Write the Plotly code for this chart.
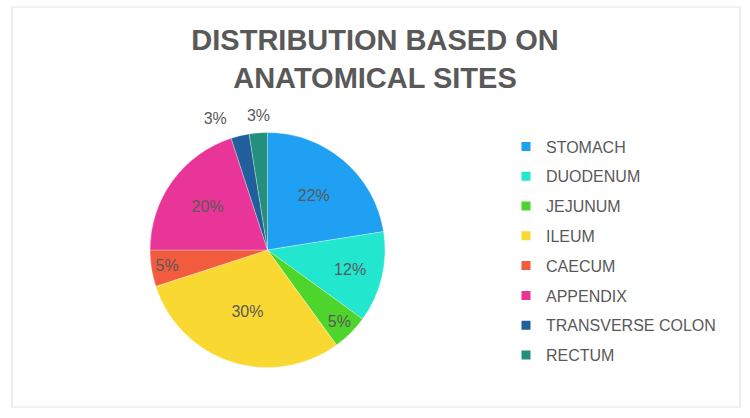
import plotly.graph_objects as go

sites = ["STOMACH", "DUODENUM", "JEJUNUM", "ILEUM", "CAECUM", "APPENDIX",
         "TRANSVERSE COLON", "RECTUM"]
counts = [9, 5, 2, 12, 2, 8, 1, 1]
pct_labels = ["22%", "12%", "5%", "30%", "5%", "20%", "3%", "3%"]
colors = ["#1FA0F2", "#23E6CF", "#4DD52B", "#FAD832", "#F35B3E", "#EA3598",
          "#215F9C", "#22907C"]
# labels of the two small slices sit outside the pie
outside_idx = [6, 7]

W, H = 750, 418
ml, mr, mt, mb = 12, 10, 7, 11
pw, ph = W - ml - mr, H - mt - mb

def px_x(x):
    return (x - ml) / pw

def px_y(y):
    return (H - mb - y) / ph

cx, cy, r = 267.5, 250.0, 117.5

def dom(ox=0.0, oy=0.0):
    return dict(x=[px_x(cx - r + ox), px_x(cx + r + ox)],
                y=[px_y(cy + r + oy), px_y(cy - r + oy)])

tfont = dict(family="Liberation Sans, Arial", size=16, color="#595959")
n = len(counts)

# main pie with the inside labels
text_main = [t if i not in outside_idx else "" for i, t in enumerate(pct_labels)]
pos_main = ["inside" if i not in outside_idx else "none" for i in range(n)]

fig = go.Figure()
fig.add_trace(go.Pie(
    labels=sites, values=counts, text=text_main, textinfo="text",
    textposition=pos_main, sort=False, direction="clockwise", rotation=0,
    marker=dict(colors=colors, line=dict(color="rgba(255,255,255,0.6)", width=0.5)),
    textfont=tfont, insidetextorientation="horizontal",
    showlegend=False, hoverinfo="label+percent", domain=dom(),
))

# transparent label-carrier pies for the two outside labels (manual label placement)
offsets = {6: (-9.0, -9.0), 7: (16.0, -9.0)}
for k in outside_idx:
    ox, oy = offsets[k]
    fig.add_trace(go.Pie(
        labels=sites, values=counts,
        text=[pct_labels[i] if i == k else "" for i in range(n)], textinfo="text",
        textposition=["outside" if i == k else "none" for i in range(n)],
        sort=False, direction="clockwise", rotation=0,
        marker=dict(colors=["rgba(0,0,0,0)"] * n, line=dict(width=0)),
        textfont=tfont, showlegend=False, hoverinfo="skip", domain=dom(ox, oy),
    ))

for name, col in zip(sites, colors):
    fig.add_trace(go.Scatter(
        x=[None], y=[None], mode="markers", name=name, legendgroup=name,
        marker=dict(symbol="square", size=9, color=col),
    ))

fig.update_layout(
    width=W, height=H,
    margin=dict(l=ml, r=mr, t=mt, b=mb),
    paper_bgcolor="white", plot_bgcolor="white",
    title=dict(
        text="<b>DISTRIBUTION BASED ON<br>ANATOMICAL SITES</b>",
        x=0.5, xref="container", xanchor="center",
        y=1 - 50 / H, yref="container", yanchor="top",
        font=dict(family="Liberation Sans, Arial", size=29, color="#595959"),
    ),
    xaxis=dict(visible=False), yaxis=dict(visible=False),
    legend=dict(
        x=px_x(506), y=px_y(129.5), xanchor="left", yanchor="top",
        font=dict(family="Liberation Sans, Arial", size=16, color="#595959"),
        tracegroupgap=6, bgcolor="rgba(0,0,0,0)", itemwidth=30,
    ),
    shapes=[dict(type="rect", xref="paper", yref="paper", x0=0, x1=1, y0=0, y1=1,
                 line=dict(color="#E3E3E3", width=1.2))],
)

fig.write_html("out.html")
